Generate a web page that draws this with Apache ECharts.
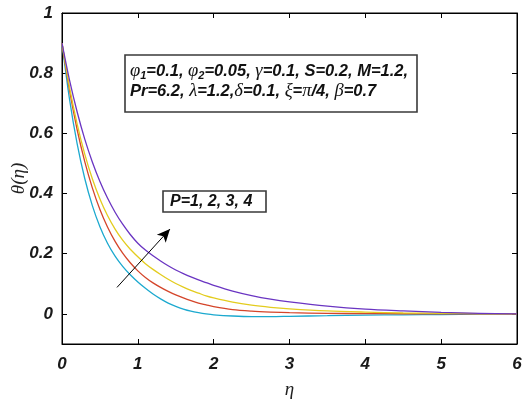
<!DOCTYPE html>
<html>
<head>
<meta charset="utf-8">
<script src="https://cdn.jsdelivr.net/npm/echarts@6.0.0/dist/echarts.min.js"></script>
<style>html,body{margin:0;padding:0;background:#fff;}#c{width:531px;height:403px;}</style>
</head>
<body>
<div id="c"></div>
<script>
var eta = [0,0.1,0.2,0.3,0.4,0.5,0.6,0.7,0.8,0.9,1.0,1.1,1.2,1.3,1.4,1.5,1.6,1.7,1.8,1.9,2.0,2.25,2.5,2.75,3.0,3.5,4.0,4.5,5.0,5.5,6.0];
var thetaP1 = [0.900,0.712,0.565,0.450,0.360,0.290,0.235,0.192,0.158,0.130,0.106,0.085,0.066,0.050,0.036,0.025,0.016,0.009,0.004,0.000,-0.003,-0.007,-0.009,-0.009,-0.008,-0.006,-0.004,-0.003,-0.002,-0.001,0];
var thetaP2 = [0.900,0.742,0.612,0.506,0.419,0.347,0.289,0.241,0.202,0.170,0.143,0.121,0.103,0.088,0.075,0.063,0.053,0.044,0.036,0.030,0.024,0.014,0.009,0.006,0.004,0.002,0.001,0.0005,0,0,0];
var thetaP3 = [0.900,0.752,0.631,0.531,0.449,0.382,0.327,0.282,0.245,0.215,0.190,0.167,0.148,0.131,0.115,0.101,0.089,0.078,0.069,0.060,0.053,0.039,0.029,0.022,0.017,0.010,0.006,0.003,0.002,0.001,0];
var thetaP4 = [0.900,0.776,0.671,0.581,0.505,0.440,0.385,0.338,0.298,0.264,0.235,0.212,0.193,0.176,0.160,0.146,0.134,0.123,0.113,0.104,0.095,0.076,0.061,0.049,0.040,0.026,0.016,0.010,0.005,0.002,0];
var seriesNames = ['P=1','P=2','P=3','P=4'];
var seriesColors = ['#1CA9CF','#D4452A','#E3CC1E','#6A35C2'];
var yTicks = [0,0.2,0.4,0.6,0.8,1];
var arrowStart = [0.725,0.088];
var arrowEnd = [1.424,0.282];

function pairs(v){ return eta.map(function(x,i){return [x,v[i]];}); }
var all = [thetaP1,thetaP2,thetaP3,thetaP4];
var series = all.map(function(v,i){
  return {
    name: seriesNames[i], type:'line', data: pairs(v), showSymbol:false,
    smooth:0.3, z: 3,
    lineStyle:{color:seriesColors[i], width:1.3}, itemStyle:{color:seriesColors[i]}
  };
});
series[0].markLine = {
  silent:true, symbol:['none','arrow'], symbolSize:[9,13],
  label:{show:false},
  lineStyle:{color:'#000', width:1, type:'solid'},
  data:[[{coord:arrowStart},{coord:arrowEnd}]]
};

var tickFont = {fontFamily:'Liberation Sans', fontWeight:'bold', fontStyle:'italic', fontSize:17, color:'#1a1a1a'};
var chart = echarts.init(document.getElementById('c'), null, {renderer:'canvas'});
var g = 'Liberation Serif';
chart.setOption({
  animation:false,
  backgroundColor:'#fff',
  grid:{left:62, right:14, top:13, bottom:59, outerBoundsMode:'none', containLabel:false, show:true, borderColor:'#000', borderWidth:1, backgroundColor:'transparent'},
  xAxis:[{
    type:'value', min:0, max:6, interval:1,
    axisLine:{show:true, onZero:false, lineStyle:{color:'#000'}},
    axisTick:{show:true, inside:true, length:5, lineStyle:{color:'#000'}},
    splitLine:{show:false},
    axisLabel:Object.assign({margin:12}, tickFont),
    name:'η', nameLocation:'middle', nameGap:36, nameMoveOverlap:false,
    nameTextStyle:{fontFamily:'Liberation Serif', fontStyle:'italic', fontSize:19, color:'#222'}
  },{
    type:'value', min:0, max:6, interval:1, position:'top',
    axisLine:{show:true, onZero:false, lineStyle:{color:'#000'}},
    axisTick:{show:true, inside:true, length:5, lineStyle:{color:'#000'}},
    axisLabel:{show:false}, splitLine:{show:false}
  }],
  yAxis:[{
    type:'value', min:-0.1, max:1,
    axisLine:{show:true, onZero:false, lineStyle:{color:'#000'}},
    axisTick:{show:true, inside:true, length:5, customValues:yTicks, lineStyle:{color:'#000'}},
    splitLine:{show:false},
    axisLabel:Object.assign({margin:9, customValues:yTicks}, tickFont),
    name:'θ(η)', nameLocation:'middle', nameGap:34, nameRotate:90, nameMoveOverlap:false,
    nameTextStyle:{fontFamily:'Liberation Serif', fontStyle:'italic', fontSize:19, color:'#222'}
  },{
    type:'value', min:-0.1, max:1, position:'right',
    axisLine:{show:true, onZero:false, lineStyle:{color:'#000'}},
    axisTick:{show:true, inside:true, length:5, customValues:yTicks, lineStyle:{color:'#000'}},
    axisLabel:{show:false}, splitLine:{show:false}
  }],
  series: series,
  graphic:[
    {type:'rect', shape:{x:125,y:55,width:292,height:57}, style:{fill:'#fff', stroke:'#3a3a3a', lineWidth:1.6}, z:10},
    {type:'text', x:130, y:61, z:11, style:{
      text:'{g|φ}{s|1}{b|=0.1, }{g|φ}{s|2}{b|=0.05, }{g|γ}{b|=0.1, S=0.2, M=1.2,}\n{b|Pr=6.2, }{g|λ}{b|=1.2,}{g|δ}{b|=0.1, }{g|ξ}{b|=}{g|π}{b|/4, }{g|β}{b|=0.7}',
      verticalAlign:'top', align:'left',
      rich:{
        b:{fontFamily:'Liberation Sans', fontWeight:'bold', fontStyle:'italic', fontSize:16.5, lineHeight:20, fill:'#111'},
        g:{fontFamily:g, fontStyle:'italic', fontSize:18.5, lineHeight:20, fill:'#111'},
        s:{fontFamily:'Liberation Sans', fontWeight:'bold', fontStyle:'italic', fontSize:11, lineHeight:20, verticalAlign:'bottom', padding:[10,0,0,0], fill:'#111'}
      }
    }},
    {type:'rect', shape:{x:163,y:191,width:103,height:21}, style:{fill:'#fff', stroke:'#3a3a3a', lineWidth:1.6}, z:10},
    {type:'text', x:170, y:202, z:11, style:{
      text:'P=1, 2, 3, 4', verticalAlign:'middle', align:'left',
      fontFamily:'Liberation Sans', fontWeight:'bold', fontStyle:'italic', fontSize:16, fill:'#111'
    }}
  ]
});
</script>
</body>
</html>
